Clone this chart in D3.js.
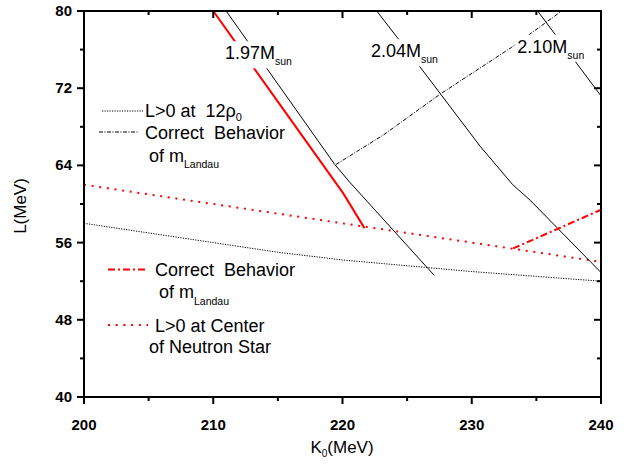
<!DOCTYPE html>
<html><head><meta charset="utf-8">
<script src="https://cdn.jsdelivr.net/npm/d3@7/dist/d3.min.js"></script>
<style>body{margin:0;background:#fff}svg{display:block}text{font-family:"Liberation Sans",Arial,sans-serif;white-space:pre}</style>
</head><body>
<svg id="c" width="630" height="466"></svg>
<script>
// ---- data ----
const xTicks = [200, 210, 220, 230, 240];
const yTicks = [40, 48, 56, 64, 72, 80];
const kGrid = [200, 205, 210, 215, 220, 225, 230, 235, 240];
// L>0 at 12 rho0 (black dotted)
const L12rho = [58.0, 57.0, 56.0, 55.0, 54.2, 53.6, 53.0, 52.5, 52.0];
// L>0 at center of neutron star (red dotted)
const Lcenter = [62.0, 61.0, 60.0, 59.0, 58.0, 57.0, 56.0, 55.0, 54.0];
// 1.97 Msun contour (black solid)
const k197 = [211.0, 219.4, 220.6, 227.1];
const L197 = [80.0, 64.1, 62.2, 52.6];
// 1.97 Msun constrained (red solid)
const k197r = [210.0, 220.06, 221.7];
const L197r = [80.0, 61.1, 57.5];
// 2.04 Msun contour
const k204 = [222.65, 226.0, 230.64, 233.17, 234.51, 240.0];
const L204 = [80.0, 74.2, 66.0, 62.0, 60.4, 52.9];
// 2.10 Msun contour
const k210 = [235.1, 240.0];
const L210 = [80.0, 71.2];
// Correct behavior of m_Landau (black dash-dot)
const kMb = [219.5, 223.16, 227.54, 233.09, 236.96];
const LMb = [64.1, 67.15, 71.37, 76.24, 80.0];
// Correct behavior of m_Landau (red dash-dot)
const kMr = [233.2, 240.0];
const LMr = [55.4, 59.4];

const svg = d3.select("#c");
const x = d3.scaleLinear().domain([200, 240]).range([84, 601]);
const y = d3.scaleLinear().domain([40, 80]).range([397, 11]);

svg.append("defs").append("clipPath").attr("id","clip")
  .append("rect").attr("x",84).attr("y",11).attr("width",517).attr("height",386);

const line = d3.line().x(d=>x(d[0])).y(d=>y(d[1]));
const g = svg.append("g").attr("clip-path","url(#clip)");
function draw(ks, ls, color, w, dash){
  g.append("path").datum(ks.map((k,i)=>[k,ls[i]])).attr("d",line)
   .attr("fill","none").attr("stroke",color).attr("stroke-width",w)
   .attr("stroke-dasharray",dash||null);
}
draw(kGrid, L12rho, "#000", 1, "1.2,1.3");
draw(kGrid, Lcenter, "#ff0000", 2, "2,5.7");
draw(k197, L197, "#000", 1);
draw(k197r, L197r, "#ff0000", 2);
draw(k204, L204, "#000", 1);
draw(k210, L210, "#000", 1);
draw(kMb, LMb, "#000", 1, "4,1.5,1,1.5");
draw(kMr, LMr, "#ff0000", 2, "7,3,2,3");

// mass labels with white background
function massLabel(txt, px, py){
  const t = svg.append("text").attr("x",px).attr("y",py).attr("font-size",18).attr("fill","#000");
  t.append("tspan").text(txt);
  t.append("tspan").attr("font-size",10.5).attr("dy",6).text("sun");
  const b = t.node().getBBox();
  svg.insert("rect", function(){return t.node();})
    .attr("x",b.x-2).attr("y",b.y-2).attr("width",b.width+4).attr("height",b.height+3).attr("fill","#fff");
}
massLabel("1.97M", 225, 59.3);
massLabel("2.04M", 371, 57.3);
massLabel("2.10M", 517.3, 52.7);

// axes
const ax = svg.append("g");
const xMinor = d3.range(205, 240, 10);
const yMinor = d3.range(44, 80, 8);
function ticks(vals, len, fn){ vals.forEach(v=>fn(v,len)); }
const tk = (x1,y1,x2,y2)=>ax.append("line").attr("x1",x1).attr("y1",y1).attr("x2",x2).attr("y2",y2).attr("stroke","#000").attr("stroke-width",2);
// bottom (outward)
xTicks.forEach(v=>tk(x(v),397,x(v),404));
xMinor.forEach(v=>tk(x(v),397,x(v),401));
// top (inward)
xTicks.forEach(v=>tk(x(v),11,x(v),18));
xMinor.forEach(v=>tk(x(v),11,x(v),15));
// left (outward)
yTicks.forEach(v=>tk(84,y(v),77,y(v)));
yMinor.forEach(v=>tk(84,y(v),80,y(v)));
// right (inward)
yTicks.forEach(v=>tk(601,y(v),594,y(v)));
yMinor.forEach(v=>tk(601,y(v),597,y(v)));
ax.append("rect").attr("x",84).attr("y",11).attr("width",517).attr("height",386)
  .attr("fill","none").attr("stroke","#000").attr("stroke-width",2);

xTicks.forEach(v=>ax.append("text").attr("x",x(v)).attr("y",430).attr("text-anchor","middle")
  .attr("font-size",15).attr("font-weight","bold").text(v));
yTicks.forEach(v=>ax.append("text").attr("x",72).attr("y",y(v)+5).attr("text-anchor","end")
  .attr("font-size",15).attr("font-weight","bold").text(v));

// axis titles
const xt = svg.append("text").attr("x",342).attr("y",453).attr("text-anchor","middle").attr("font-size",17);
xt.append("tspan").text("K");
xt.append("tspan").attr("font-size",10).attr("dy",4).text("0");
xt.append("tspan").attr("dy",-4).text("(MeV)");
svg.append("text").attr("transform","translate(26,206) rotate(-90)").attr("text-anchor","middle")
  .attr("font-size",17).text("L(MeV)");

// legend 1
const lg = svg.append("g");
function sample(x1,x2,yy,color,w,dash){
  lg.append("line").attr("x1",x1).attr("x2",x2).attr("y1",yy).attr("y2",yy)
    .attr("stroke",color).attr("stroke-width",w).attr("stroke-dasharray",dash);
}
sample(102,143,111,"#000",1,"1.2,1.3");
let t1 = lg.append("text").attr("x",145).attr("y",117).attr("font-size",18);
t1.append("tspan").text("L>0 at  12ρ");
t1.append("tspan").attr("font-size",11).attr("dy",4).text("0");
sample(99,139,132,"#000",1,"4,1.5,1,1.5");
lg.append("text").attr("x",145).attr("y",139).attr("font-size",18).text("Correct  Behavior");
let t2 = lg.append("text").attr("x",149).attr("y",161.5).attr("font-size",18);
t2.append("tspan").text("of m");
t2.append("tspan").attr("font-size",10.5).attr("dy",6.6).text("Landau");

// legend 2
sample(108,148,269.5,"#ff0000",2,"7,3,2,3");
lg.append("text").attr("x",155).attr("y",276).attr("font-size",18).text("Correct  Behavior");
let t3 = lg.append("text").attr("x",159).attr("y",298.3).attr("font-size",18);
t3.append("tspan").text("of m");
t3.append("tspan").attr("font-size",10.5).attr("dy",6.7).text("Landau");
sample(108,148,325,"#ff0000",2,"2,5.7");
lg.append("text").attr("x",155).attr("y",331.7).attr("font-size",18).text("L>0 at Center");
lg.append("text").attr("x",149).attr("y",352.5).attr("font-size",18).text("of Neutron Star");
</script>
</body></html>
